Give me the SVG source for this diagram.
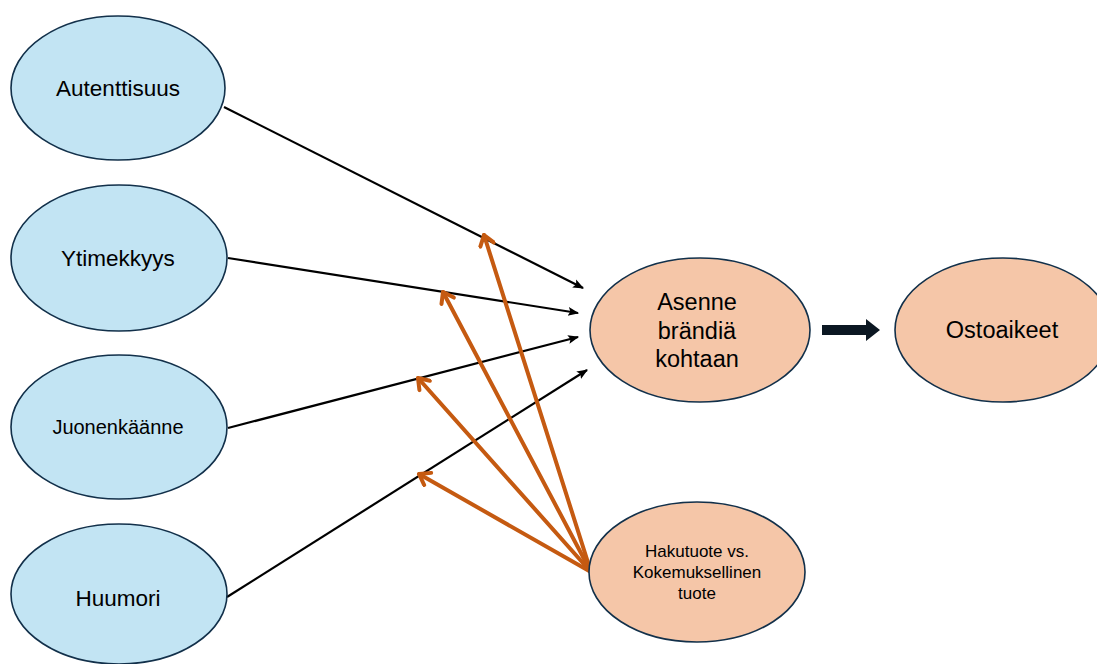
<svg xmlns="http://www.w3.org/2000/svg" width="1097" height="664" viewBox="0 0 1097 664">
  <style>
    .blue { fill: #c2e4f3; stroke: #12304a; stroke-width: 1.6; }
    .peach { fill: #f5c6a8; stroke: #12304a; stroke-width: 1.6; }
    .lbl { font-family: "Liberation Sans", Arial, sans-serif; fill: #000; text-anchor: middle; }
    .blk { stroke: #000; stroke-width: 2.2; fill: none; marker-end: url(#headBlack); }
    .org { stroke: #c55a11; stroke-width: 4; fill: none; stroke-linecap: round; marker-end: url(#headOrange); }
  </style>
  <defs>
    <marker id="headBlack" viewBox="0 0 10 10" refX="9" refY="5" markerWidth="11" markerHeight="11" orient="auto" markerUnits="userSpaceOnUse">
      <path d="M0,1 L10,5 L0,9 L2,5 Z" fill="#000"/>
    </marker>
    <marker id="headOrange" viewBox="0 0 16 18" refX="13" refY="9" markerWidth="16" markerHeight="18" orient="auto" markerUnits="userSpaceOnUse">
      <path d="M3,2 L13,9 L3,16" fill="none" stroke="#c55a11" stroke-width="4" stroke-linecap="round" stroke-linejoin="round"/>
    </marker>
  </defs>

  <rect width="1097" height="664" fill="#fff"/>

  <!-- connectors -->
  <g id="connectors">
    <line class="blk" x1="224" y1="107" x2="583" y2="288"/>
    <line class="blk" x1="228" y1="258" x2="578" y2="313"/>
    <line class="blk" x1="228" y1="428" x2="578" y2="337"/>
    <line class="blk" x1="227" y1="597" x2="587" y2="370"/>
    <line class="org" x1="591" y1="572" x2="484" y2="235"/>
    <line class="org" x1="591" y1="572" x2="443" y2="292"/>
    <line class="org" x1="591" y1="572" x2="418" y2="378"/>
    <line class="org" x1="591" y1="572" x2="419" y2="474"/>
    <!-- block arrow toward purchase intentions -->
    <path d="M822,325 L866,325 L866,319 L880,330 L866,341 L866,335 L822,335 Z" fill="#0b1722"/>
  </g>

  <g id="autenttisuus">
    <ellipse class="blue" cx="118" cy="88" rx="107" ry="72"/>
    <text class="lbl" x="118" y="96" font-size="22.5">Autenttisuus</text>
  </g>
  <g id="ytimekkyys">
    <ellipse class="blue" cx="119" cy="258" rx="108" ry="73"/>
    <text class="lbl" x="118" y="266" font-size="22.5">Ytimekkyys</text>
  </g>
  <g id="juonenkaanne">
    <ellipse class="blue" cx="119" cy="427" rx="108" ry="72"/>
    <text class="lbl" x="118" y="434" font-size="20">Juonenkäänne</text>
  </g>
  <g id="huumori">
    <ellipse class="blue" cx="119" cy="594" rx="108" ry="70"/>
    <text class="lbl" x="118" y="606" font-size="22.5">Huumori</text>
  </g>
  <g id="asenne">
    <ellipse class="peach" cx="700" cy="330" rx="110" ry="72"/>
    <text class="lbl" x="697" y="310" font-size="23.5">Asenne</text>
    <text class="lbl" x="697" y="339" font-size="23.5">brändiä</text>
    <text class="lbl" x="697" y="367" font-size="23.5">kohtaan</text>
  </g>
  <g id="ostoaikeet">
    <ellipse class="peach" cx="1003" cy="330" rx="108" ry="72"/>
    <text class="lbl" x="1002" y="338" font-size="23.5">Ostoaikeet</text>
  </g>
  <g id="hakutuote">
    <ellipse class="peach" cx="697" cy="572" rx="108" ry="70"/>
    <text class="lbl" x="697" y="557" font-size="17">Hakutuote vs.</text>
    <text class="lbl" x="697" y="578" font-size="17">Kokemuksellinen</text>
    <text class="lbl" x="697" y="599" font-size="17">tuote</text>
  </g>
</svg>
